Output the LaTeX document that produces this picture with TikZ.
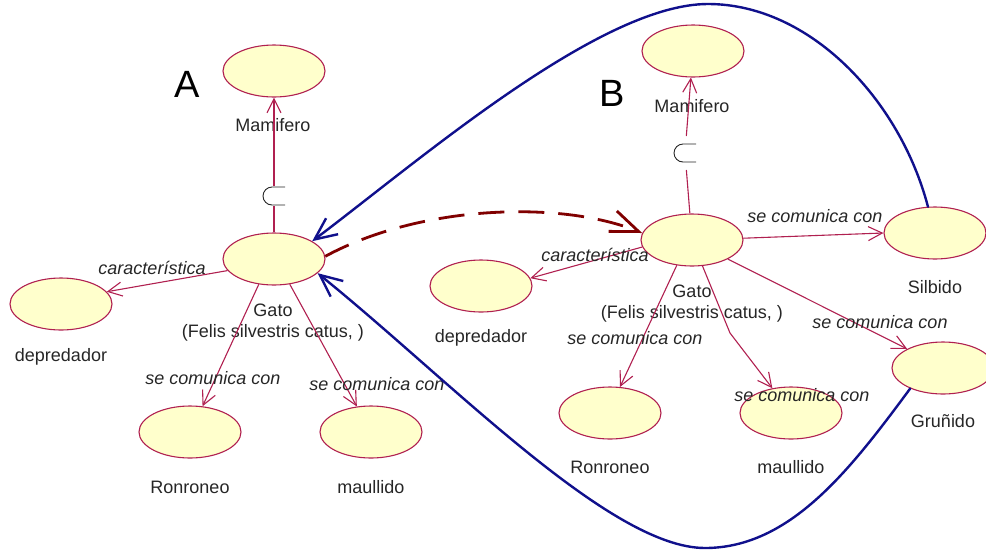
\documentclass[tikz,border=0pt]{standalone}
\usepackage{fontspec}
\setmainfont{Liberation Sans}
\usetikzlibrary{shapes.geometric,arrows.meta}
\definecolor{ucfill}{RGB}{255,255,204}
\definecolor{ucline}{RGB}{176,32,80}
\definecolor{navyline}{RGB}{16,16,140}
\definecolor{dashred}{RGB}{128,0,0}

\begin{document}
\begin{tikzpicture}[x=1pt,y=-1pt,
  usecase/.style={ellipse, draw=ucline, fill=ucfill, line width=1.1pt,
    minimum width=102pt, minimum height=52pt, inner sep=0pt},
  lbl/.style={font=\fontsize{18}{21}\selectfont, text=black!85, inner sep=0pt, align=center},
  rel/.style={font=\fontsize{18}{21}\selectfont\itshape, text=black!85, inner sep=0pt},
  bigletter/.style={font=\fontsize{38}{40}\selectfont, inner sep=0pt},
  assoc/.style={draw=ucline, line width=1.1pt, -{Straight Barb[length=14pt,width=14pt]}},
  plainline/.style={draw=ucline, line width=1.1pt},
  navyarrow/.style={draw=navyline, line width=2.4pt, line cap=round,
    -{Straight Barb[length=22pt,width=20pt,line width=2.4pt]}},
  dasharrow/.style={draw=dashred, line width=2.8pt, dash pattern=on 26pt off 14pt,
    -{Straight Barb[length=28pt,width=22pt,line width=2.8pt]}},
  csym/.style={minimum width=24pt, minimum height=20pt, inner sep=0pt,
    path picture={\draw[black!85, line width=0.9pt]
      ([shift={(11pt,9pt)}]path picture bounding box.center) -- ++(-13pt,0pt)
      arc[start angle=90, end angle=270, radius=9pt] -- ++(13pt,0pt);}}
]
\useasboundingbox (0,0) rectangle (986,550);

% ---- panel A ----
\node[bigletter] (letA) at (187,84) {A};
\node[usecase] (mA) at (274,71) {};
\node[lbl] (mAl) at (273,125) {Mamifero};
\node[usecase] (gA) at (274,259) {};
\node[lbl] (gAl) at (273,323) {Gato\\(Felis silvestris catus, )};
\node[usecase] (dA) at (61,304) {};
\node[lbl] (dAl) at (61,357) {depredador};
\node[usecase] (rA) at (190,432) {};
\node[lbl] (rAl) at (190,487) {Ronroneo};
\node[usecase] (uA) at (371,432) {};
\node[lbl] (uAl) at (371,487) {maullido};
\node[csym] (cA) at (274,196) {};

\draw[plainline] (gA) -- (cA);
\draw[assoc] (cA) -- (mA);
\draw[assoc] (gA.194) -- (dA.15);
\draw[assoc] (gA.-121) -- (rA.64);
\draw[assoc] (gA.-58) -- (uA.119);
\node[rel] (kA) at (152,268) {característica};
\node[rel] (sA1) at (213,378) {se comunica con};
\node[rel] (sA2) at (377,384) {se comunica con};

% ---- panel B ----
\node[bigletter] (letB) at (612,93) {B};
\node[usecase] (mB) at (693,51) {};
\node[lbl] (mBl) at (692,106) {Mamifero};
\node[usecase] (gB) at (692,240) {};
\node[lbl] (gBl) at (692,304) {Gato\\(Felis silvestris catus, )};
\node[usecase] (dB) at (481,286) {};
\node[lbl] (dBl) at (481,338) {depredador};
\node[usecase] (rB) at (610,413) {};
\node[lbl] (rBl) at (610,467) {Ronroneo};
\node[usecase] (uB) at (791,413) {};
\node[lbl] (uBl) at (791,467) {maullido};
\node[usecase] (sB) at (935,233) {};
\node[lbl] (sBl) at (935,287) {Silbido};
\node[usecase] (nB) at (943,368) {};
\node[lbl] (nBl) at (943,421) {Gruñido};
\node[csym, outer sep=7pt] (cB) at (685,153) {};

\draw[plainline] (gB) -- (cB);
\draw[assoc] (cB) -- (mB);
\draw[assoc] (gB.188) -- (dB.9);
\draw[assoc] (gB.-121) -- (rB.69);
\draw[assoc] (gB.-68) -- (730,333) -- (uB.127);
\draw[assoc] (gB.2) -- (sB.180);
\draw[assoc] (gB.-28) -- (nB.152);
\node[rel] (kB) at (595,255) {característica};
\node[rel] (sB1) at (635,338) {se comunica con};
\node[rel] (sB2) at (802,395) {se comunica con};
\node[rel] (sB3) at (815,216) {se comunica con};
\node[rel] (sB4) at (880,322) {se comunica con};

% ---- links between the two panels ----
\draw[dasharrow] (gA.3) .. controls (420,205) and (560,200) .. (gB.172);
\draw[navyarrow] (sB.105) .. controls (900,100) and (810,4) .. (708,4)
  .. controls (600,4) and (420,160) .. (gA.25);
\draw[navyarrow] (nB.212) .. controls (850,470) and (790,548) .. (705,548)
  .. controls (610,548) and (450,380) .. (gA.-18);
\end{tikzpicture}
\end{document}
